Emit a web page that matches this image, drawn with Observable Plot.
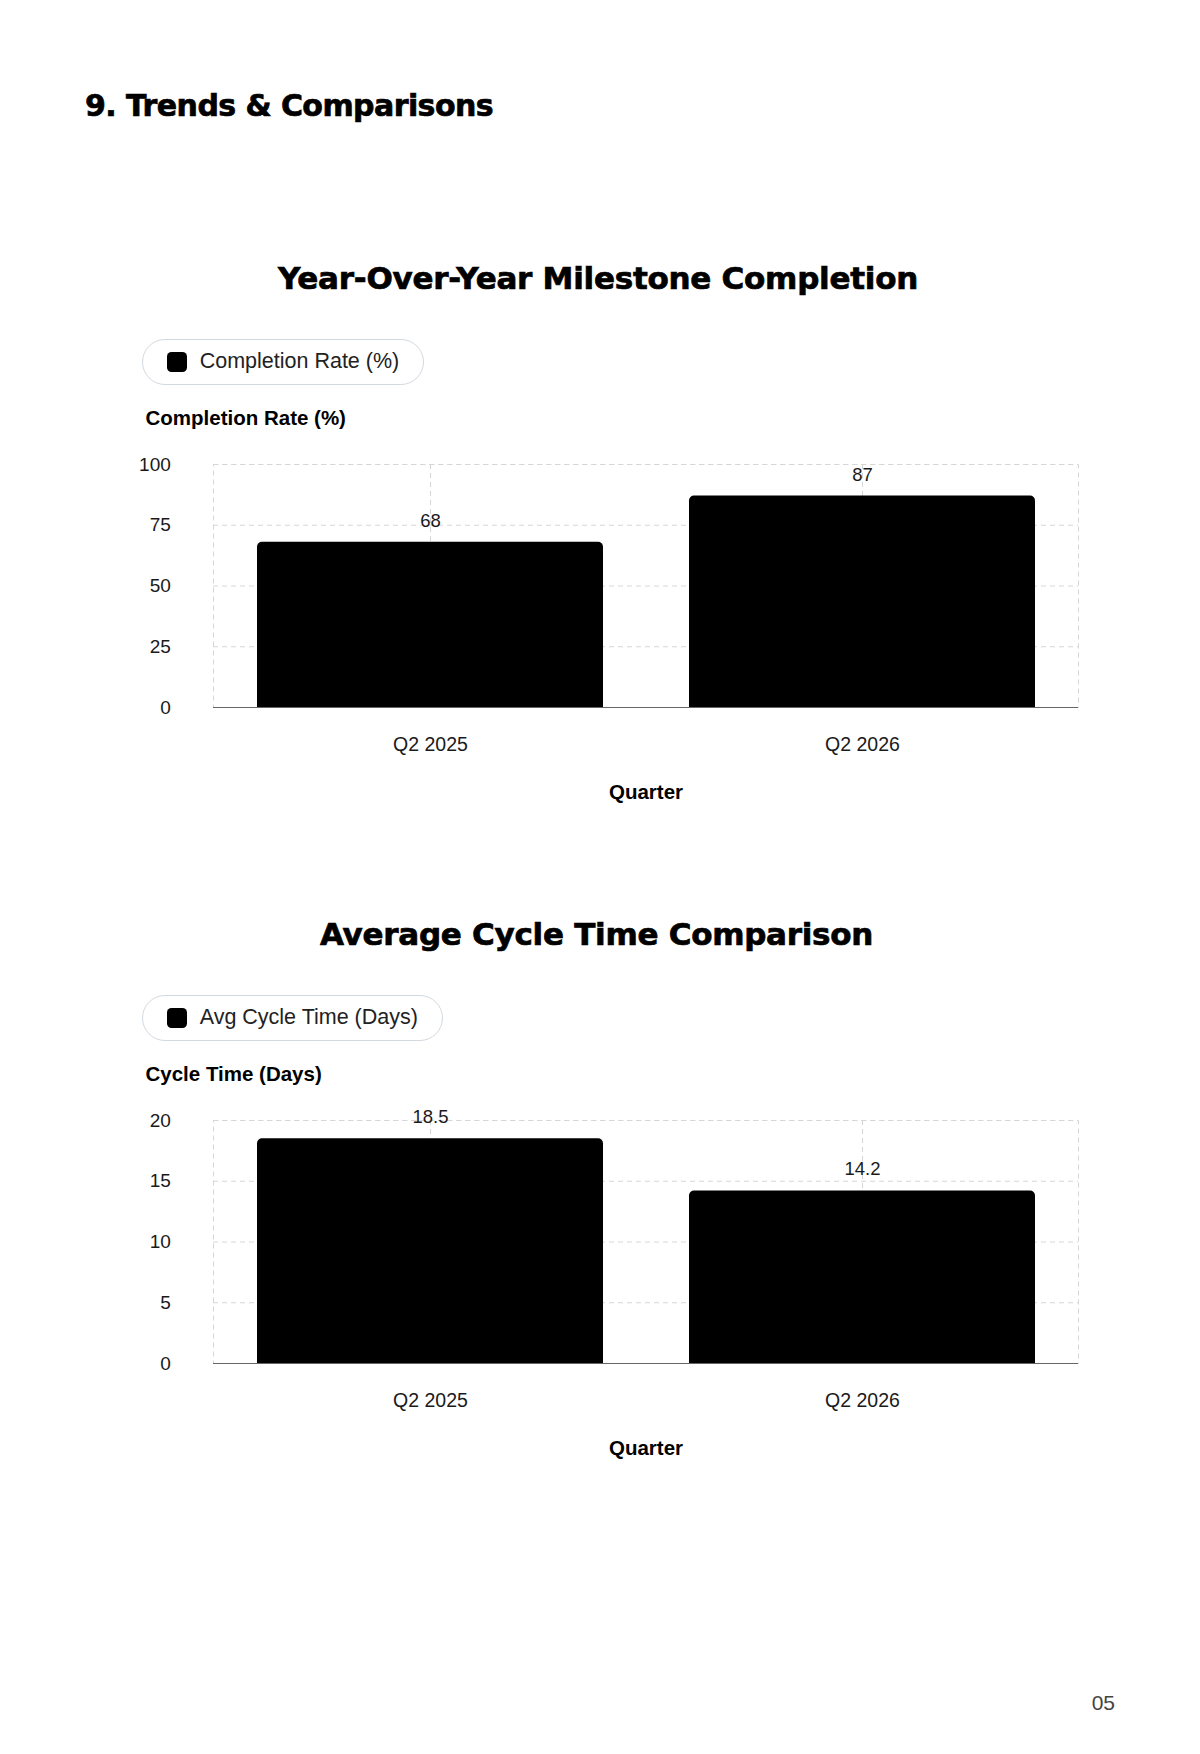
<!DOCTYPE html>
<html>
<head>
<meta charset="utf-8">
<script src="https://cdn.jsdelivr.net/npm/d3@7"></script>
<script src="https://cdn.jsdelivr.net/npm/@observablehq/plot@0.6"></script>
<style>
  html, body { margin: 0; padding: 0; background: #fff; }
  body { width: 1200px; height: 1754px; position: relative; overflow: hidden;
         font-family: "Liberation Sans", Arial, sans-serif; color: #111; }
  .abs { position: absolute; }
  .h { font-family: "DejaVu Sans", sans-serif; font-weight: bold; line-height: 1;
       white-space: nowrap; color: #000; -webkit-text-stroke: 0.7px #000; }
  .pill { position: absolute; box-sizing: border-box; height: 46px;
          border: 1.5px solid #d3d9e0; border-radius: 23px; display: flex;
          align-items: center; padding: 0 24px 0 24px; background: #fff; }
  .sw { width: 20px; height: 20px; border-radius: 4.5px; background: #000; margin-right: 13px; flex: none; }
  .pill span { font-size: 21.5px; color: #222; line-height: 1; white-space: nowrap; }
  .pageno { position: absolute; right: 85px; top: 1692px; font-size: 21px; line-height: 1; color: #444; }
</style>
</head>
<body>
<script>
// ---- data ----
const quarters = ["Q2 2025", "Q2 2026"];
const completionRate = [68, 87];
const cycleTime = [18.5, 14.2];
const completionTicks = [0, 25, 50, 75, 100];
const cycleTicks = [0, 5, 10, 15, 20];

const sectionTitle = "9. Trends & Comparisons";
const chartTitles = ["Year-Over-Year Milestone Completion", "Average Cycle Time Comparison"];
const legendLabels = ["Completion Rate (%)", "Avg Cycle Time (Days)"];
const yLabels = ["Completion Rate (%)", "Cycle Time (Days)"];
const xLabel = "Quarter";
const pageNumber = "05";

// ---- helpers ----
function heading(text, left, baseline, size, target) {
  const el = document.createElement("div");
  el.className = "h abs";
  el.textContent = text;
  el.style.fontSize = size + "px";
  el.style.left = left + "px";
  el.style.top = (baseline - 0.846 * size) + "px";
  document.body.appendChild(el);
  const w = el.getBoundingClientRect().width;
  const ls = (target - w) / text.length;
  el.style.letterSpacing = ls.toFixed(2) + "px";
  return el;
}

function legend(label, left, top) {
  const p = document.createElement("div");
  p.className = "pill";
  p.style.left = left + "px";
  p.style.top = top + "px";
  const sw = document.createElement("div");
  sw.className = "sw";
  const sp = document.createElement("span");
  sp.textContent = label;
  p.appendChild(sw);
  p.appendChild(sp);
  document.body.appendChild(p);
}

const gridStyle = {stroke: "#d6d6d6", strokeOpacity: 1, strokeDasharray: "5,4"};

function chart(values, ticks, yLabel, plotTop) {
  const data = quarters.map((q, i) => ({quarter: q, value: values[i]}));
  const mTop = 60, h = 243, mBottom = 100;
  const svg = Plot.plot({
    width: 990,
    height: mTop + h + mBottom,
    marginLeft: 93,
    marginRight: 32,
    marginTop: mTop,
    marginBottom: mBottom,
    style: {fontFamily: "Liberation Sans, Arial, sans-serif", fontSize: "19px", color: "#1a1a1a", background: "transparent", overflow: "visible"},
    x: {domain: quarters, paddingInner: 0.2, paddingOuter: 0.1, label: null},
    y: {domain: [ticks[0], ticks[ticks.length - 1]], ticks: ticks, label: null},
    marks: [
      Plot.gridY({ticks: ticks, ...gridStyle}),
      Plot.gridX(gridStyle),
      Plot.frame(gridStyle),
      Plot.barY(data, {x: "quarter", y: "value", fill: "#000", ry1: 5}),
      Plot.ruleY([0], {stroke: "#666", strokeWidth: 1.2}),
      Plot.axisY({ticks: ticks, tickSize: 0, tickPadding: 42.7, fontSize: 19, label: null}),
      Plot.axisX({tickSize: 0, tickPadding: 30, fontSize: 19.5, label: null}),
      Plot.text(data, {x: "quarter", y: "value", text: d => String(d.value), dy: -15.5, lineAnchor: "bottom", fontSize: 18.5, fill: "#1a1a1a"}),
      Plot.text([yLabel], {text: d => d, frameAnchor: "top-left", dx: -68, dy: -39.5, textAnchor: "start", lineAnchor: "bottom", fontWeight: "bold", fontSize: 20.5, fill: "#000"}),
      Plot.text([xLabel], {text: d => d, frameAnchor: "bottom", dy: 91, lineAnchor: "bottom", fontWeight: "bold", fontSize: 20.5, fill: "#000"})
    ]
  });
  svg.style.position = "absolute";
  svg.style.left = "120px";
  svg.style.top = (plotTop - mTop) + "px";
  svg.style.maxWidth = "none";
  document.body.appendChild(svg);
}

// ---- page ----
heading(sectionTitle, 85, 116, 30, 408);

const offset = 656;
// chart 1
heading(chartTitles[0], 278, 289, 31, 640);
legend(legendLabels[0], 141.7, 339);
chart(completionRate, completionTicks, yLabels[0], 464);

// chart 2
heading(chartTitles[1], 320, 289 + offset, 31, 553);
legend(legendLabels[1], 141.7, 339 + offset);
chart(cycleTime, cycleTicks, yLabels[1], 464 + offset);

const pn = document.createElement("div");
pn.className = "pageno";
pn.textContent = pageNumber;
document.body.appendChild(pn);
</script>
</body>
</html>
